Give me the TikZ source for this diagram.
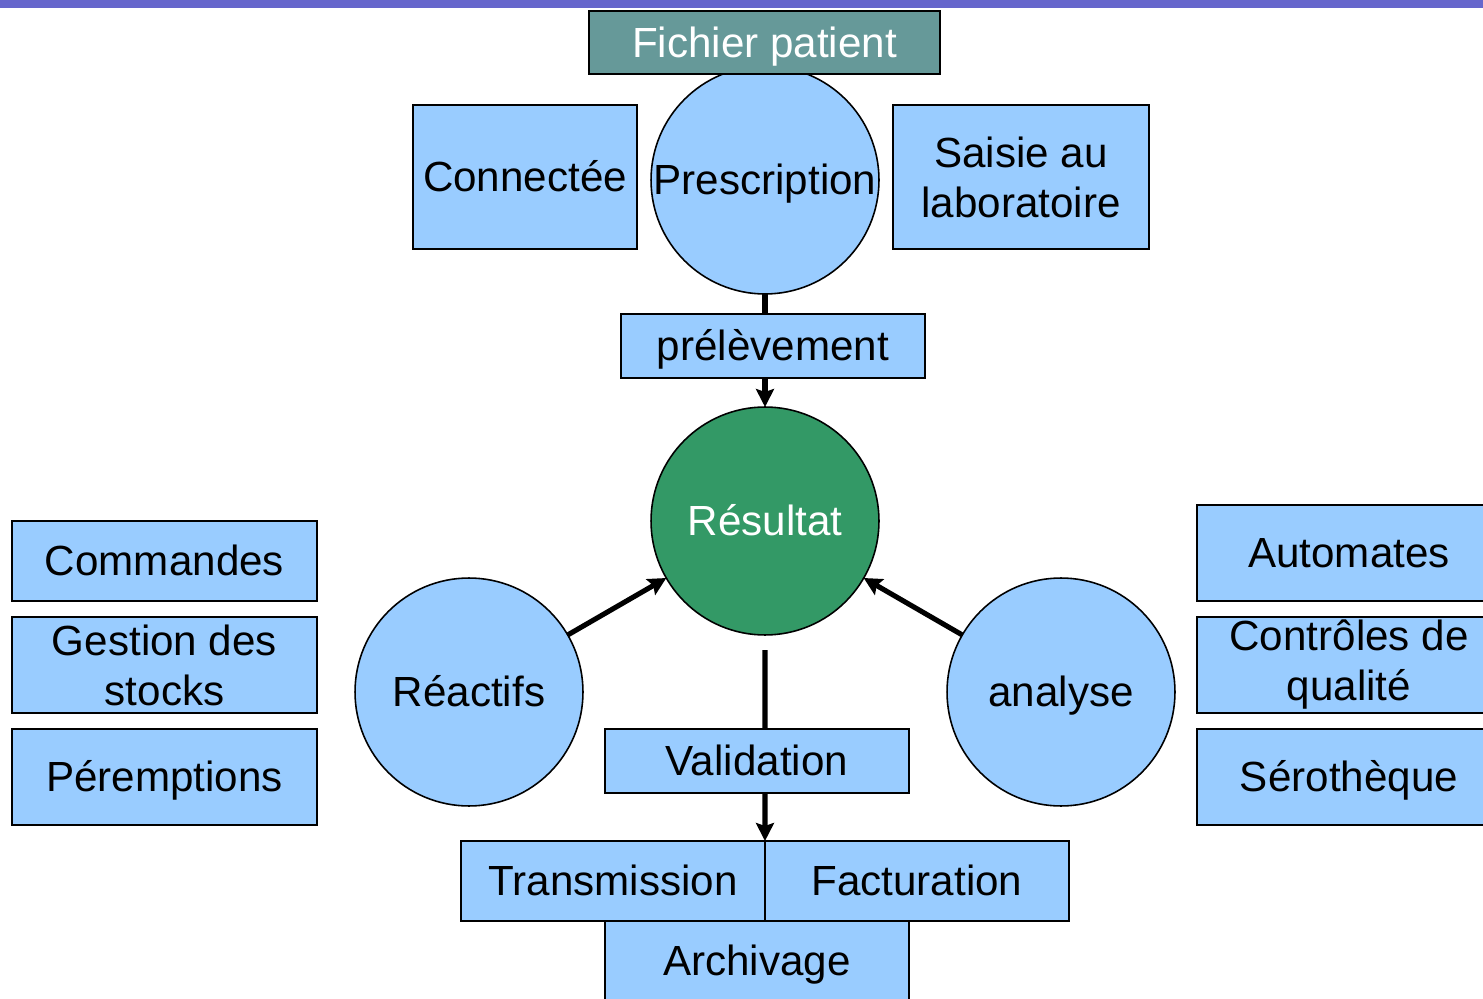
\documentclass[tikz,border=0pt]{standalone}
\usepackage{fontspec}
\setmainfont{Liberation Sans}
\usetikzlibrary{arrows.meta,positioning}

\definecolor{skyfill}{HTML}{99CCFF}
\definecolor{tealfill}{HTML}{669999}
\definecolor{greenfill}{HTML}{339966}
\definecolor{barcol}{HTML}{6666CC}

\begin{document}
\begin{tikzpicture}[x=0.02cm, y=-0.02cm,
  box/.style={draw, fill=skyfill, line width=0.8pt, inner sep=0pt, outer sep=0pt, align=center, minimum width=6.08cm, minimum height=1.92cm, text height=22pt, text depth=5pt, font=\fontsize{24}{28.5}\selectfont},
  circ/.style={circle, draw, fill=skyfill, line width=0.9pt, inner sep=0pt, outer sep=0pt, minimum size=4.56cm, text height=22pt, text depth=5pt, font=\fontsize{24}{28.5}\selectfont},
  twolines/.style={text height={}, text depth={}},
  arr/.style={-{Stealth[length=0.36cm, width=0.36cm, inset=0.06cm]}, line width=2.9pt}
]
\useasboundingbox (0,0) rectangle (1483,999);
\clip (0,0) rectangle (1483,999);
\fill[barcol] (0,0) rectangle (1483,8);

% prescription and where it comes from
\node[circ] (presc) at (765,180) {Prescription};
\node[box, fill=tealfill, text=white, minimum width=7.02cm, minimum height=1.26cm] (fichier) at (764.5,42.5) {Fichier patient};
\node[box, minimum width=4.48cm, minimum height=2.88cm] (conn) at (525,177) {Connectée};
\node[box, twolines, minimum width=5.12cm, minimum height=2.88cm] (saisie) at (1021,177) {Saisie au\\laboratoire};

% centre of the cycle
\node[circ, fill=greenfill, text=white] (res) at (765,521) {Résultat};
\draw[arr] (presc) -- (res);
\node[box, minimum height=1.28cm] (prel) at (773,346) {prélèvement};

\node[circ] (reac) at (469,692) {Réactifs};
\node[circ] (anal) at (1061,692) {analyse};
\draw[arr] (reac) -- (res);
\draw[arr] (anal) -- (res);

% stock side
\node[box, minimum width=6.1cm, minimum height=1.6cm] (cmd) at (164.5,561) {Commandes};
\node[box, twolines, minimum width=6.1cm, below=0.32cm of cmd] (stock) {Gestion des\\stocks};
\node[box, minimum width=6.1cm, below=0.32cm of stock] (perem) {Péremptions};

% analysers side
\node[box] (auto) at (1349,553) {Automates};
\node[box, twolines, below=0.32cm of auto] (cq) {Contrôles de\\qualité};
\node[box, below=0.32cm of cq] (sero) {Sérothèque};

% after validation
\node[box, minimum height=1.6cm] (trans) at (613,881) {Transmission};
\node[box, minimum height=1.6cm, right=0pt of trans] (fact) {Facturation};
\node[box, minimum height=1.6cm] (arch) at (757,961) {Archivage};
\coordinate (valtop) at (765,650);
\draw[arr] (valtop) -- (trans.north east);
\node[box, minimum height=1.28cm] (valid) at (757,761) {Validation};

\end{tikzpicture}
\end{document}
